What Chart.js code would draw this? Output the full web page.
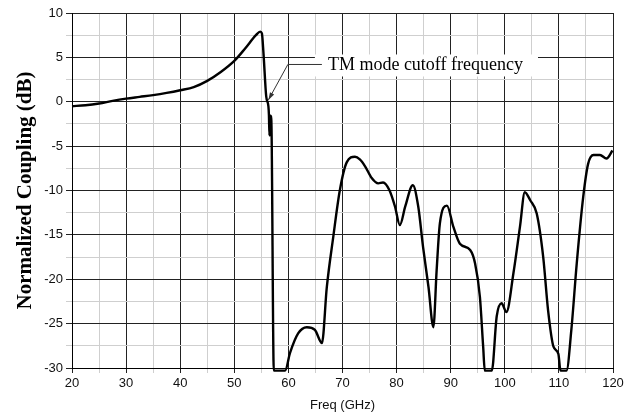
<!DOCTYPE html>
<html>
<head>
<meta charset="utf-8">
<script src="https://cdn.jsdelivr.net/npm/chart.js@4/dist/chart.umd.min.js"></script>
<style>
  body { margin: 0; background: #fff; }
  canvas { display: block; }
</style>
</head>
<body>
<canvas id="coupling-chart" width="635" height="413"></canvas>
<script>
// frequency (GHz) and normalized coupling (dB)
const freq = [20, 22.5, 25, 27.5, 30, 32.5, 35, 37.5, 40, 42.5, 45, 47.5, 50, 52, 54, 54.8, 55.1, 55.4, 55.9, 56.3,
  56.4, 56.5, 56.6, 56.7, 56.8, 56.9, 57.3, 59.4, 60.3, 61.8, 63.4, 64.9, 66.2, 67.1, 68.3, 69.5, 70.8, 72.3, 73.2, 74.2,
  75.4, 76.6, 77.5, 78.7, 79.7, 80.6, 81.6, 83.0, 84.0, 84.9, 85.9, 86.8, 87.4, 88.0, 89.3, 90.5, 91.7, 93.6, 94.5,
  95.4, 96.0, 96.3, 97.6, 98.5, 99.4, 100.3, 101.6, 102.8, 103.7, 104.7, 105.9, 107.1, 108.0, 109.0, 109.9, 110.3,
  111.4, 112.3, 113.3, 114.5, 115.4, 116.4, 117.6, 118.8, 119.9];
const coupling = [-0.5, -0.4, -0.2, 0.1, 0.35, 0.55, 0.75, 1.0, 1.3, 1.65, 2.35, 3.35, 4.6, 6.0, 7.5, 7.9, 7.7, 5.4, 0.6, -0.5,
  -1.5, -3.8, -1.5, -3.8, -1.6, -3.8, -30.3, -30.3, -28.3, -26.1, -25.4, -25.7, -27.2, -20.9, -15.2, -10.0, -6.8, -6.2, -6.5, -7.3,
  -8.6, -9.2, -9.1, -10.0, -11.8, -13.9, -11.8, -9.4, -11.8, -16.4, -20.9, -25.4, -19.0, -13.7, -11.7, -14.1, -16.0, -16.7, -18.2,
  -22.0, -27.6, -30.3, -30.3, -24.2, -22.7, -23.7, -19.3, -14.1, -10.2, -11.1, -12.6, -17.5, -23.5, -27.6, -28.4, -30.3,
  -30.3, -25.7, -18.2, -10.7, -7.0, -6.0, -6.0, -6.4, -5.5];

const xTicks = [20, 30, 40, 50, 60, 70, 80, 90, 100, 110, 120];
const yTicks = [10, 5, 0, -5, -10, -15, -20, -25, -30];

// annotation, in data units
const noteText = 'TM mode cutoff frequency';
const noteTip = { x: 56.3, y: 0.2 };
const noteElbow = { x: 59.9, y: 4.2 };
const noteTextX = 67.3;

const points = freq.map((f, i) => ({ x: f, y: coupling[i] }));

const annotationPlugin = {
  id: 'cutoffNote',
  afterDatasetsDraw(chart) {
    const { ctx, scales: { x, y } } = chart;
    const tipX = x.getPixelForValue(noteTip.x);
    const tipY = y.getPixelForValue(noteTip.y);
    const elbX = x.getPixelForValue(noteElbow.x);
    const elbY = y.getPixelForValue(noteElbow.y);
    const txtX = x.getPixelForValue(noteTextX);

    ctx.save();
    ctx.font = '18px "Liberation Serif", "Times New Roman", serif';
    const w = ctx.measureText(noteText).width;
    ctx.fillStyle = '#fff';
    ctx.fillRect(txtX - 13, elbY - 10, w + 28, 22);

    ctx.fillStyle = '#000';
    ctx.textBaseline = 'middle';
    ctx.fillText(noteText, txtX, elbY + 1);

    ctx.strokeStyle = '#333';
    ctx.lineWidth = 1;
    ctx.beginPath();
    ctx.moveTo(txtX - 6, elbY);
    ctx.lineTo(elbX, elbY);
    ctx.lineTo(tipX, tipY);
    ctx.stroke();

    // arrow head
    const ang = Math.atan2(tipY - elbY, tipX - elbX);
    const len = 8;
    ctx.fillStyle = '#333';
    ctx.beginPath();
    ctx.moveTo(tipX, tipY);
    ctx.lineTo(tipX - len * Math.cos(ang - 0.3), tipY - len * Math.sin(ang - 0.3));
    ctx.lineTo(tipX - len * Math.cos(ang + 0.3), tipY - len * Math.sin(ang + 0.3));
    ctx.closePath();
    ctx.fill();
    ctx.restore();
  }
};

const gridColor = (major) => (c) => {
  const v = c.tick ? c.tick.value : 0;
  return Math.abs(v % major) < 1e-6 ? '#222' : '#cfcfcf';
};

new Chart(document.getElementById('coupling-chart'), {
  type: 'line',
  data: {
    datasets: [{
      data: points,
      borderColor: '#000',
      borderWidth: 2.4,
      pointRadius: 0,
      cubicInterpolationMode: 'monotone',
      fill: false,
      clip: 4
    }]
  },
  options: {
    responsive: false,
    animation: false,
    layout: { padding: { left: 10, top: 13, right: 22, bottom: 0 } },
    plugins: {
      legend: { display: false },
      tooltip: { enabled: false }
    },
    scales: {
      x: {
        type: 'linear',
        min: 20,
        max: 120,
        afterFit: (s) => { s.height = 45; },
        border: { color: '#000', width: 1 },
        grid: { color: gridColor(10), lineWidth: 1, tickLength: 5 },
        ticks: {
          stepSize: 5,
          autoSkip: false,
          maxRotation: 0,
          padding: 3,
          color: '#111',
          font: { family: '"Liberation Sans", Arial, sans-serif', size: 13 },
          callback: (v) => xTicks.includes(v) ? String(v) : ''
        },
        title: {
          display: true,
          text: 'Freq (GHz)',
          color: '#111',
          padding: { top: 0, bottom: 0 },
          font: { family: '"Liberation Sans", Arial, sans-serif', size: 13 }
        }
      },
      y: {
        min: -30,
        max: 10,
        afterFit: (s) => { s.width = 62; },
        border: { color: '#000', width: 1 },
        grid: { color: gridColor(5), lineWidth: 1, tickLength: 6 },
        ticks: {
          stepSize: 2.5,
          autoSkip: false,
          padding: 3,
          color: '#111',
          font: { family: '"Liberation Sans", Arial, sans-serif', size: 13 },
          callback: (v) => yTicks.includes(v) ? String(v) : ''
        },
        title: {
          display: true,
          text: 'Normalized Coupling (dB)',
          color: '#000',
          padding: { top: 3, bottom: 0 },
          font: { family: '"Liberation Serif", "Times New Roman", serif', size: 21, weight: 'bold' }
        }
      }
    }
  },
  plugins: [annotationPlugin]
});
</script>
</body>
</html>
